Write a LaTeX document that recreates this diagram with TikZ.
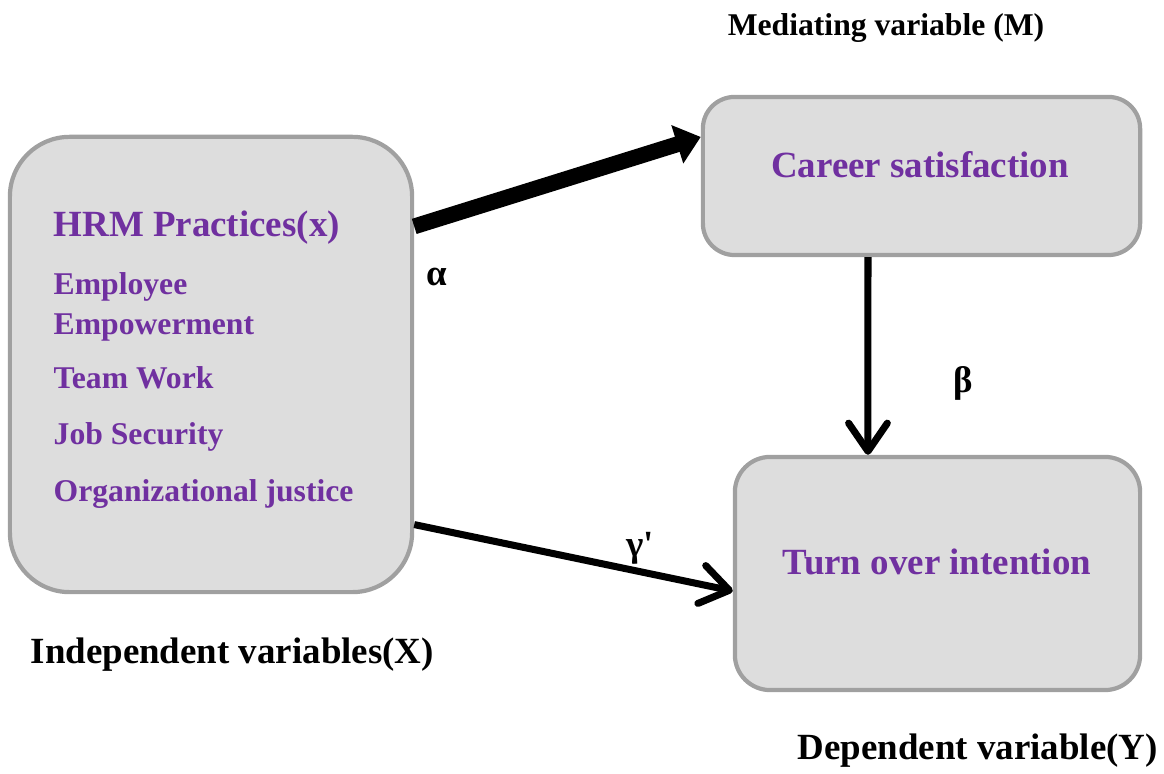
\documentclass[tikz,border=0pt]{standalone}
\usepackage{fontspec}
\setmainfont{Liberation Serif}
\usetikzlibrary{arrows.meta}
\definecolor{boxfill}{HTML}{DDDDDD}
\definecolor{boxline}{HTML}{A0A0A0}
\definecolor{itempurple}{HTML}{7030A0}

\begin{document}
\begin{tikzpicture}[x=0.01cm,y=-0.01cm,
  varbox/.style={draw=boxline,fill=boxfill,line width=1.2pt,inner sep=0pt},
  title/.style={text=itempurple,font=\fontsize{10.5}{12}\selectfont\bfseries,inner sep=0pt},
  item/.style={text=itempurple,font=\fontsize{9}{11}\selectfont\bfseries,anchor=base west,inner sep=0pt},
  caption/.style={font=\fontsize{10.5}{12}\selectfont\bfseries,inner sep=0pt},
  coef/.style={font=\fontsize{10.5}{12}\selectfont\bfseries,inner sep=0pt},
  path arrow/.style={line width=2pt,-{Straight Barb[length=8pt,width=11pt,round]}}]
\useasboundingbox (0,0) rectangle (1164,774);
\node[varbox,rounded corners=17pt,minimum width=4.02cm,minimum height=4.55cm] (hrm) at (211,364.5) {};
\node[varbox,rounded corners=9pt,minimum width=4.37cm,minimum height=1.58cm] (career) at (921.5,176) {};
\node[varbox,rounded corners=10pt,minimum width=4.05cm,minimum height=2.33cm] (turnover) at (937.5,573.5) {};

\node[title,anchor=base west] (hrmtitle) at (53,237) {HRM Practices(x)};
\node[item] (employee) at (53,295) {Employee};
\node[item] (empower) at (53,335) {Empowerment};
\node[item] (teamwork) at (53,389) {Team Work};
\node[item] (jobsec) at (53,445) {Job Security};
\node[item] (justice) at (53,502) {Organizational justice};
\node[title,anchor=base] (careertext) at (920,178) {Career satisfaction};
\node[title,anchor=base] (turntext) at (937,575) {Turn over intention};

\node[caption,anchor=base west] (xlabel) at (30,664) {Independent variables(X)};
\node[caption,font=\fontsize{9}{11}\selectfont\bfseries,anchor=base] (mlabel) at (886,36) {Mediating variable (M)};
\node[caption,anchor=base west] (ylabel) at (797,760) {Dependent variable(Y)};

\draw[line width=4.5pt,-{Triangle[length=7pt,width=11pt]}] ([yshift=1.38cm]hrm.east) -- ([yshift=0.39cm]career.west);
\draw[path arrow] ([xshift=-0.535cm]career.south) -- ([xshift=-0.695cm]turnover.north);
\draw[path arrow] ([yshift=-1.6cm]hrm.east) -- ([yshift=-0.175cm]turnover.west);

\node[coef] (alpha) at (437,277) {α};
\node[coef] (beta) at (963,383) {β};
\node[coef] (gamma) at (640,548) {γ\textquotesingle};
\end{tikzpicture}
\end{document}
